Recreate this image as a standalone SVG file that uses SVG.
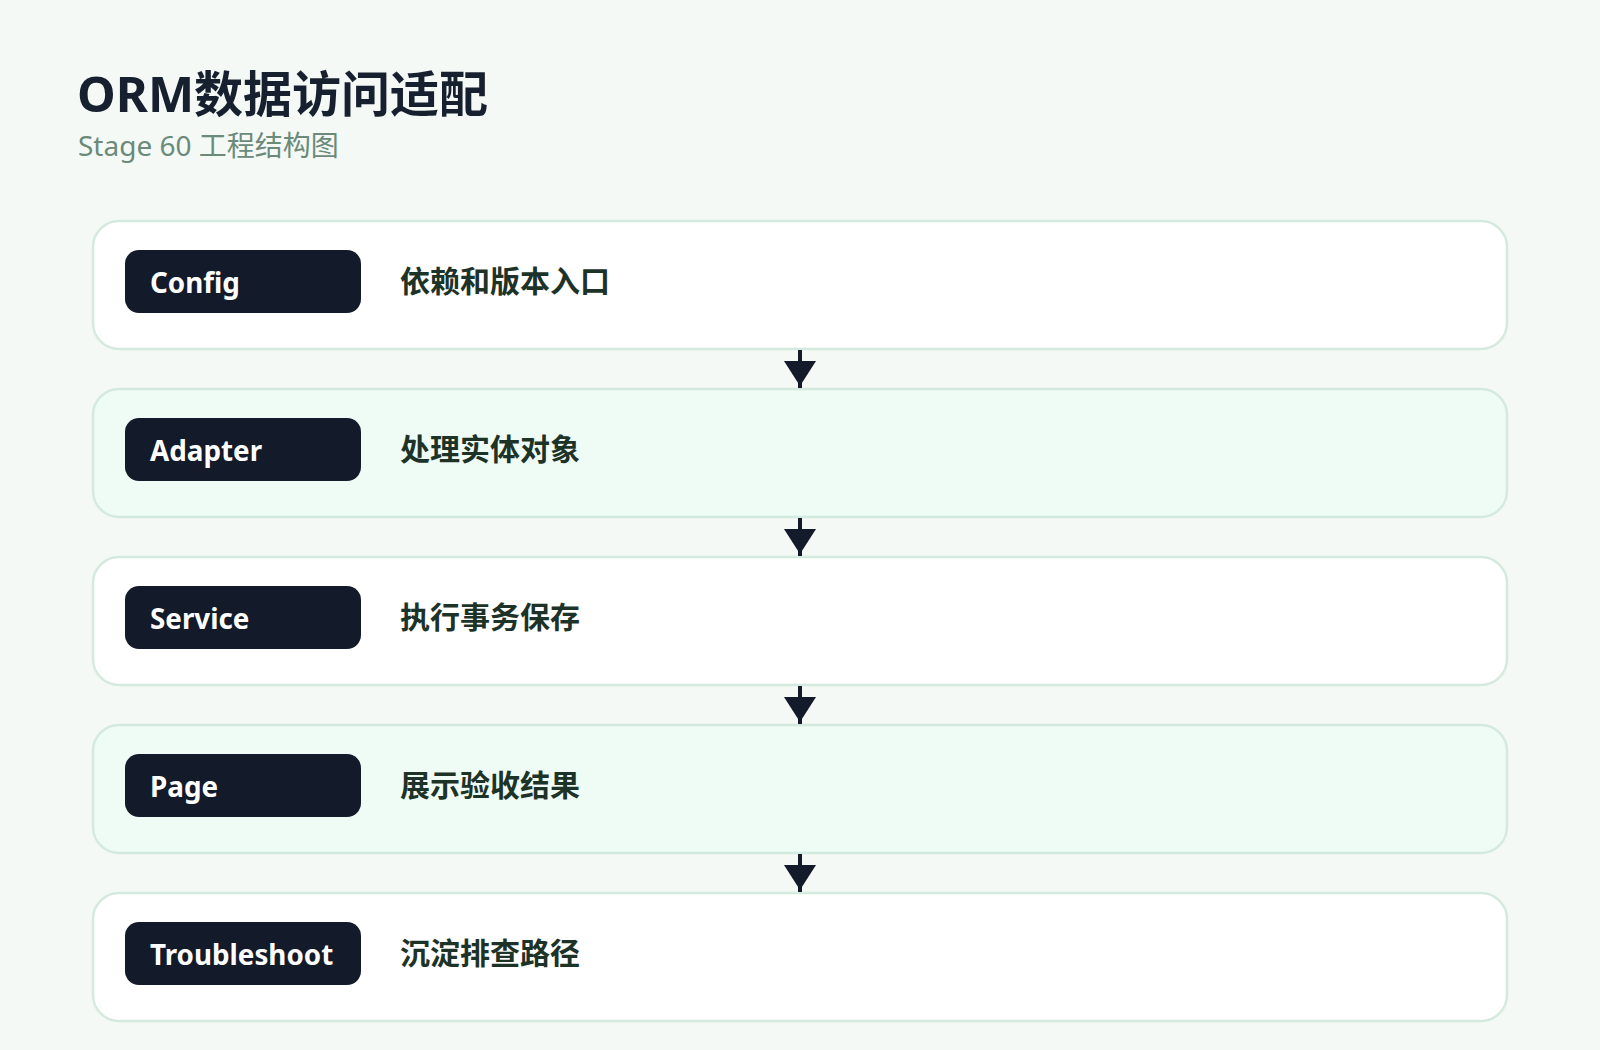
<svg xmlns="http://www.w3.org/2000/svg" width="1600" height="1050" viewBox="0 0 1600 1050">
<defs>
<style>
.bg{fill:#f4f9f6}
.card{stroke:#d4eadf;stroke-width:2.5}
.c-w{fill:#ffffff}
.c-m{fill:#effcf6}
.pill{fill:#131a29}
.pt{font-family:"Noto Sans","Open Sans","Noto Sans CJK SC",sans-serif;font-weight:700;font-size:27.8px;fill:#ffffff}
.dt{font-family:"Noto Sans CJK SC","Noto Sans",sans-serif;font-weight:700;font-size:30px;fill:#1e3328}
.title{font-family:"Noto Sans","Noto Sans CJK SC",sans-serif;font-weight:700;font-size:49px;fill:#16202e}
.sub{font-family:"Noto Sans","Noto Sans CJK SC",sans-serif;font-weight:400;font-size:28px;fill:#6b8a7a}
.ln{stroke:#131a29;stroke-width:4}
.ah{fill:#131a29}
</style>
</defs>
<rect class="bg" x="0" y="0" width="1600" height="1050"/>
<g id="title">
<text class="title" x="77" y="112">ORM数据访问适配</text>
<text class="sub" x="78" y="156">Stage 60 工程结构图</text>
</g>
<g id="node-config">
<rect class="card c-w" x="93" y="221" width="1414" height="128" rx="26"/>
<rect class="pill" x="125" y="250" width="236" height="63" rx="14"/>
<text class="pt" x="150" y="293">Config</text>
<text class="dt" x="400" y="292">依赖和版本入口</text>
</g>
<g id="node-adapter">
<rect class="card c-m" x="93" y="389" width="1414" height="128" rx="26"/>
<rect class="pill" x="125" y="418" width="236" height="63" rx="14"/>
<text class="pt" x="150" y="461">Adapter</text>
<text class="dt" x="400" y="460">处理实体对象</text>
</g>
<g id="node-service">
<rect class="card c-w" x="93" y="557" width="1414" height="128" rx="26"/>
<rect class="pill" x="125" y="586" width="236" height="63" rx="14"/>
<text class="pt" x="150" y="629">Service</text>
<text class="dt" x="400" y="628">执行事务保存</text>
</g>
<g id="node-page">
<rect class="card c-m" x="93" y="725" width="1414" height="128" rx="26"/>
<rect class="pill" x="125" y="754" width="236" height="63" rx="14"/>
<text class="pt" x="150" y="797">Page</text>
<text class="dt" x="400" y="796">展示验收结果</text>
</g>
<g id="node-troubleshoot">
<rect class="card c-w" x="93" y="893" width="1414" height="128" rx="26"/>
<rect class="pill" x="125" y="922" width="236" height="63" rx="14"/>
<text class="pt" x="150" y="965">Troubleshoot</text>
<text class="dt" x="400" y="964">沉淀排查路径</text>
</g>
<g id="connectors">
<line class="ln" x1="800" y1="350" x2="800" y2="388"/>
<polygon class="ah" points="784,361 816,361 800,386"/>
<line class="ln" x1="800" y1="518" x2="800" y2="556"/>
<polygon class="ah" points="784,529 816,529 800,554"/>
<line class="ln" x1="800" y1="686" x2="800" y2="724"/>
<polygon class="ah" points="784,697 816,697 800,722"/>
<line class="ln" x1="800" y1="854" x2="800" y2="892"/>
<polygon class="ah" points="784,865 816,865 800,890"/>
</g>
</svg>
